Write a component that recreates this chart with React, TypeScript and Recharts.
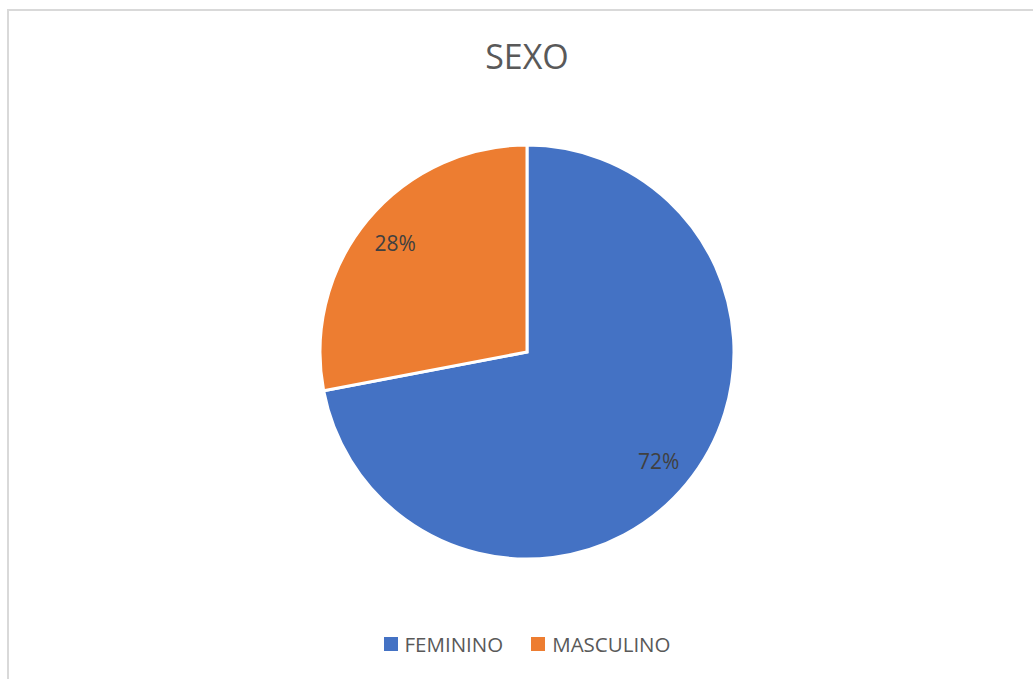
import React from "react";
import { PieChart, Pie, Cell, Legend } from "recharts";

const categories = ["FEMININO", "MASCULINO"];
const values = [72, 28];
const colors = ["#4472C4", "#ED7D31"];
const title = "SEXO";

const data = categories.map((name, i) => ({ name, value: values[i] }));
const total = values.reduce((a, b) => a + b, 0);

const RAD = Math.PI / 180;
const renderLabel = (props: any) => {
  const { cx, cy, midAngle, value } = props;
  const r = 171;
  const x = cx + r * Math.cos(-midAngle * RAD);
  const y = cy + r * Math.sin(-midAngle * RAD);
  return (
    <text
      x={x}
      y={y}
      fill="#404040"
      fontSize={21}
      fontFamily="'Open Sans', sans-serif"
      textAnchor="middle"
      dominantBaseline="central"
    >
      {`${Math.round((value / total) * 100)}%`}
    </text>
  );
};

const renderLegend = (props: any) => {
  const { payload } = props;
  return (
    <div style={{ display: "flex", justifyContent: "center", alignItems: "center" }}>
      {payload.map((entry: any, i: number) => (
        <div key={i} style={{ display: "flex", alignItems: "center", marginRight: i === 0 ? 28 : 0 }}>
          <div style={{ width: 14, height: 14, background: entry.color, marginRight: 7 }} />
          <span style={{ fontFamily: "'Open Sans', sans-serif", fontSize: 20.5, color: "#595959" }}>
            {entry.value}
          </span>
        </div>
      ))}
    </div>
  );
};

export default function App() {
  return (
    <div style={{ position: "absolute", left: 0, top: 0, width: 1033, height: 679, background: "#fff", overflow: "hidden" }}>
      <div
        style={{
          position: "absolute",
          left: 7,
          top: 9,
          width: 1100,
          height: 700,
          borderTop: "2px solid #d9d9d9",
          borderLeft: "2px solid #d9d9d9",
        }}
      />
      <div
        style={{
          position: "absolute",
          left: 0,
          top: 33,
          width: 1054,
          textAlign: "center",
          fontFamily: "'Open Sans', sans-serif",
          fontSize: 34,
          color: "#595959",
          lineHeight: "46px",
        }}
      >
        {title}
      </div>
      <div style={{ position: "absolute", left: 0, top: 0 }}>
        <PieChart width={1033} height={679} margin={{ top: 0, right: 0, bottom: 0, left: 0 }}>
          <Pie
            data={data}
            dataKey="value"
            nameKey="name"
            cx={527}
            cy={352}
            outerRadius={207}
            startAngle={90}
            endAngle={-270}
            stroke="#ffffff"
            strokeWidth={3}
            label={renderLabel}
            labelLine={false}
            isAnimationActive={false}
          >
            {data.map((d, i) => (
              <Cell key={d.name} fill={colors[i]} />
            ))}
          </Pie>
          <Legend
            verticalAlign="bottom"
            align="center"
            content={renderLegend}
            wrapperStyle={{ top: 630, bottom: "auto", left: 0, width: 1054 }}
          />
        </PieChart>
      </div>
    </div>
  );
}
